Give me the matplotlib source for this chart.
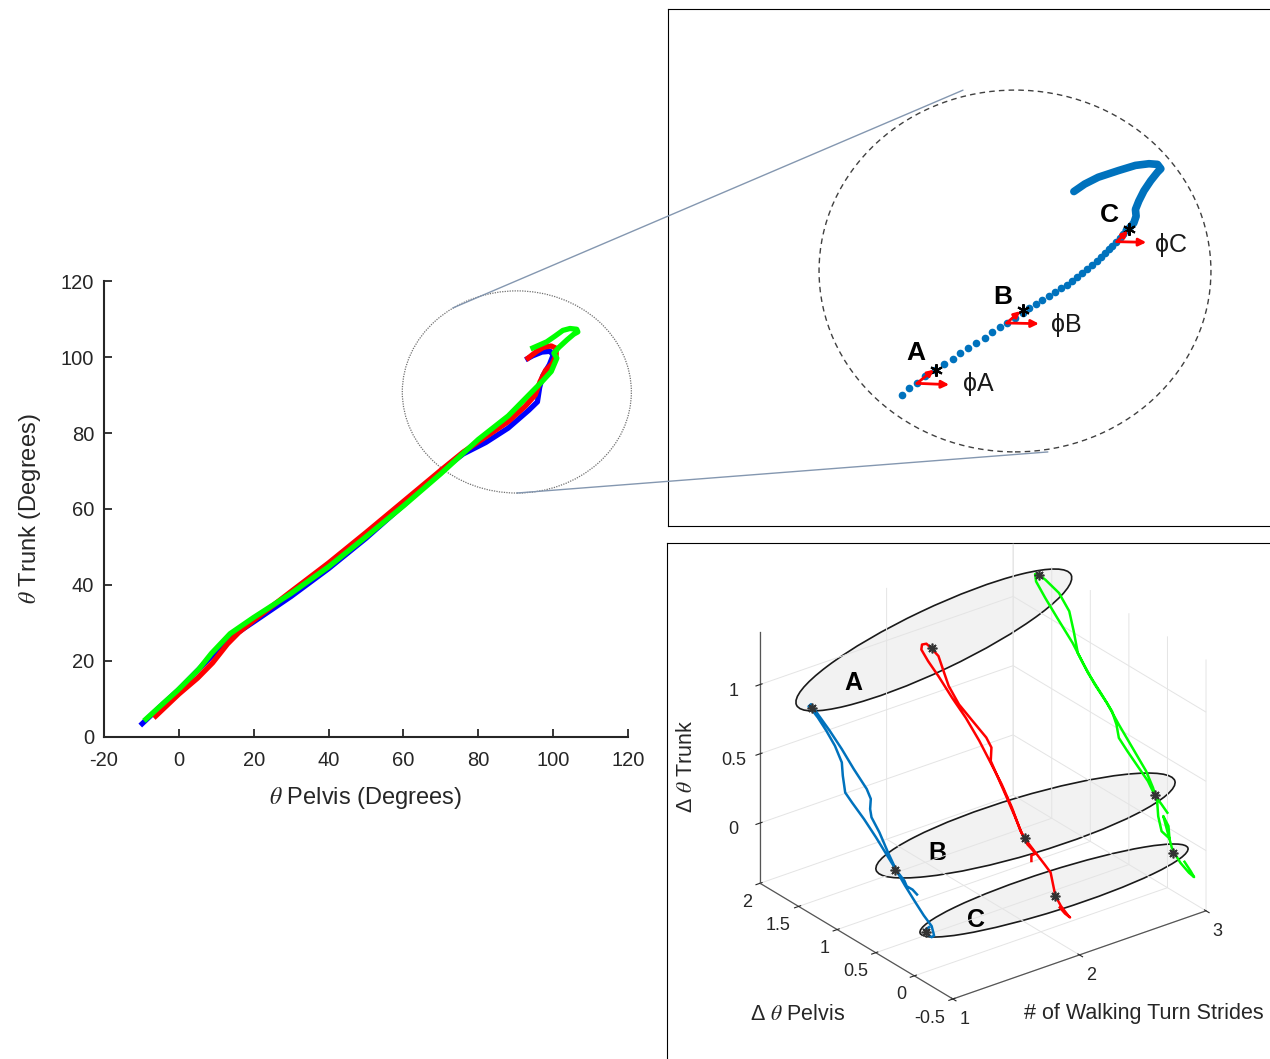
import matplotlib
matplotlib.use('Agg')
import matplotlib.pyplot as plt
import numpy as np
from matplotlib.patches import Ellipse, ConnectionPatch

plt.rcParams['font.family'] = ['Liberation Sans', 'DejaVu Sans']
plt.rcParams['mathtext.fontset'] = 'stix'
plt.rcParams['axes.unicode_minus'] = False
plt.rcParams['grid.color'] = '#e4e4e4'
plt.rcParams['grid.linewidth'] = 0.7

# ---- left panel: trunk vs pelvis angle, three turns
blue_pelvis = [-9.8, -5, 0, 5, 10, 15, 20, 30, 40, 50, 60, 70, 76, 82, 88, 93.5, 95.8, 96.4,
               97.2, 99, 100, 99.2, 97, 94.5, 93.2]
blue_trunk = [3.5, 8, 12.5, 17.5, 22.5, 27, 30.3, 37, 44.3, 52.3, 61, 70, 74.5, 77.5, 81.3, 86,
              88.2, 92, 95, 98, 100.5, 101.5, 101.3, 100.3, 99.6]
red_pelvis = [-6.2, 0, 5, 9, 13, 16, 20, 30, 40, 50, 60, 70, 76, 82, 88, 92.5, 95.2, 96.5, 98,
              99.8, 100.8, 100.8, 99.5, 97.5, 95.5, 93.3]
red_trunk = [5.5, 11.3, 15.5, 19.5, 24.5, 27.5, 30.7, 38.3, 45.8, 53.8, 62, 70.2, 75, 79, 83,
             87, 90, 93.5, 96.5, 98.3, 100.5, 102.3, 102.9, 102.6, 101.4, 99.7]
green_pelvis = [-8.8, -4, -0.4, 5.3, 8.7, 13.7, 19.9, 30, 40, 50, 60, 70, 80, 88, 93, 97, 99.5,
                101, 100.2, 101.5, 103.7, 105.5, 106.6, 106.3, 104.5, 102.6, 100.5, 98.3, 94.6]
green_trunk = [4.7, 9, 12.2, 17.8, 22, 27.2, 31.4, 37.8, 44.8, 52.7, 60.8, 69.3, 78.3, 84.5, 89.5,
               93.5, 96.2, 99.7, 101, 102.5, 104.5, 106, 106.6, 107.3, 107.5, 107, 105.5, 104, 102.4]

# ---- top right: magnified trajectory (units of the zoom view)
dots_u = [38.82, 40.05, 41.35, 42.76, 44.33, 45.85, 47.26, 48.50, 49.90, 51.20, 52.61, 53.90,
          55.14, 56.38, 57.67, 58.91, 60.03, 61.05, 62.17, 63.30, 64.25, 65.27, 66.22, 67.12,
          67.97, 68.81, 69.66, 70.45, 71.18, 71.91, 72.58, 73.20, 73.82, 74.44, 75.00, 75.57, 76.13]
dots_v = [21.80, 22.87, 23.82, 24.84, 25.85, 26.86, 27.82, 28.67, 29.57, 30.35, 31.31, 32.16,
          33.00, 33.73, 34.57, 35.42, 36.15, 36.83, 37.56, 38.23, 38.79, 39.47, 40.09, 40.71,
          41.38, 42.06, 42.73, 43.41, 44.03, 44.70, 45.32, 45.94, 46.56, 47.23, 47.80, 48.47, 49.09]
solid_u = [76.13, 76.52, 77.37, 77.76, 77.65, 78.21, 79.06, 80.19, 81.31, 81.87, 81.31, 79.90,
           77.65, 74.85, 71.46, 69.22, 67.42]
solid_v = [49.09, 49.37, 50.33, 51.45, 52.58, 53.99, 55.68, 57.36, 58.77, 59.34, 60.07, 60.18,
           59.90, 59.05, 57.93, 56.80, 55.56]
phase_names = ['A', 'B', 'C']
phase_u = [44.45, 58.91, 76.63]
phase_v = [25.84, 35.86, 49.37]
vertex_u = [41.35, 56.26, 74.55]
vertex_v = [23.70, 33.72, 47.23]
horiz_u = [46.70, 61.61, 79.45]
horiz_v = [23.48, 33.61, 47.12]
tang_u = [44.16, 58.52, 76.41]
tang_v = [25.96, 35.69, 49.03]
label_u = [41.18, 55.59, 73.26]
label_v = [28.77, 38.11, 51.62]
phi_u = [51.48, 66.11, 83.56]
phi_v = [23.58, 33.44, 46.67]

# ---- bottom right: 3D loops (strides, d pelvis, d trunk)
blue_y = [-0.035, 0.023, 0.098, 0.129, 0.231, 0.364, 0.497, 0.652, 0.808, 0.896, 0.927, 0.940,
          1.029, 1.140, 1.251, 1.317, 1.371, 1.339, 1.308, 1.251, 1.096, 0.940, 0.785, 0.617,
          0.564, 0.573, 0.555, 0.453, 0.342, 0.231, 0.120, -0.013, -0.123, -0.225, -0.256,
          -0.225, -0.168, -0.146, -0.190]
blue_z = [0.164, 0.180, 0.179, 0.209, 0.247, 0.323, 0.399, 0.479, 0.547, 0.589, 0.700, 0.792,
          0.882, 0.953, 1.012, 1.038, 1.052, 1.079, 1.065, 1.037, 0.968, 0.888, 0.796, 0.708,
          0.654, 0.578, 0.524, 0.450, 0.343, 0.247, 0.176, 0.101, 0.042, -0.001, -0.058,
          -0.081, -0.076, -0.052, -0.020]
red_y = [0.123, 0.123, 0.065, 0.176, 0.242, 0.331, 0.442, 0.575, 0.650, 0.641, 0.708, 0.885,
         1.062, 1.195, 1.262, 1.328, 1.417, 1.484, 1.541, 1.550, 1.461, 1.328, 1.151, 0.974,
         0.797, 0.641, 0.508, 0.375, 0.264, 0.211, 0.087, -0.046, -0.126, -0.157, -0.188,
         -0.259, -0.356, -0.378, -0.312, -0.245]
red_z = [0.035, 0.076, 0.108, 0.138, 0.188, 0.279, 0.386, 0.510, 0.581, 0.681, 0.731, 0.791,
         0.852, 0.940, 1.026, 1.112, 1.137, 1.149, 1.124, 1.085, 1.030, 0.967, 0.870, 0.785,
         0.676, 0.560, 0.460, 0.336, 0.205, 0.170, 0.120, 0.068, 0.035, -0.039, -0.113,
         -0.162, -0.201, -0.205, -0.199, -0.178]
green_y = [0.001, 0.076, 0.165, 0.253, 0.386, 0.519, 0.630, 0.661, 0.719, 0.852, 1.029, 1.162,
           1.215, 1.273, 1.406, 1.583, 1.659, 1.716, 1.703, 1.583, 1.428, 1.229, 1.096, 0.941,
           0.785, 0.630, 0.453, 0.276, 0.187, 0.134, 0.120, 0.076, -0.026, -0.013, 0.054,
           -0.057, -0.088, -0.168, -0.279, -0.345, -0.301, -0.221]
green_z = [0.106, 0.141, 0.178, 0.250, 0.313, 0.377, 0.436, 0.522, 0.599, 0.675, 0.771, 0.871,
           1.010, 1.136, 1.223, 1.260, 1.266, 1.256, 1.207, 1.127, 1.035, 0.921, 0.821, 0.717,
           0.637, 0.532, 0.423, 0.314, 0.224, 0.145, 0.041, -0.053, -0.071, 0.014, 0.064,
           -0.128, -0.154, -0.199, -0.234, -0.243, -0.215, -0.174]
strides = [1, 2, 3]
star_y = [[1.331, 0.253, -0.154], [1.417, 0.211, -0.188], [1.659, 0.165, -0.070]]
star_z = [[1.053, 0.245, -0.064], [1.137, 0.170, -0.113], [1.266, 0.178, -0.160]]
# phase ellipses (frame units): centre, width, height, angle
ell_cx = [44.25, 59.45, 64.18]
ell_cy = [69.49, 38.72, 27.94]
ell_w = [50.4, 51.7, 46.6]
ell_h = [10.3, 9.6, 6.6]
ell_ang = [25.4, 16.6, 17.6]
ell_label_x = [30.85, 44.78, 51.24]
ell_label_y = [62.35, 34.16, 23.05]

W, H = 1270, 1059
fig = plt.figure(figsize=(12.7, 10.59), dpi=100)


def box(x0, y0, x1, y1):
    return [x0 / W, 1 - y1 / H, (x1 - x0) / W, (y1 - y0) / H]


# ---------------- left panel
ax = fig.add_axes(box(104, 281, 628, 737))
ax.plot(blue_pelvis, blue_trunk, color='#0000ff', lw=3.8)
ax.plot(red_pelvis, red_trunk, color='#ff0000', lw=3.8)
ax.plot(green_pelvis, green_trunk, color='#00ff00', lw=3.8)
ax.set_xlim(-20, 120)
ax.set_ylim(0, 120)
ax.set_xticks(np.arange(-20, 121, 20))
ax.set_yticks(np.arange(0, 121, 20))
for s in ['top', 'right']:
    ax.spines[s].set_visible(False)
for s in ['left', 'bottom']:
    ax.spines[s].set_linewidth(1.5)
    ax.spines[s].set_color('#262626')
ax.tick_params(direction='in', length=6, width=1.3, labelsize=14.5, colors='#262626')
ax.tick_params(axis='x', pad=10)
ax.tick_params(axis='y', pad=7)
ax.set_xlabel(r'$\theta$ Pelvis (Degrees)', fontsize=17, color='#262626', labelpad=11)
ax.set_ylabel(r'$\theta$ Trunk (Degrees)', fontsize=17, color='#262626', labelpad=13)
ax.add_patch(Ellipse((90.3, 90.8), 61.2, 53.2, fill=False, ec='#707070', lw=0.9,
                     ls=(0, (1, 1)), clip_on=False))

# ---------------- top right panel
ax_tr = fig.add_axes(box(668, 9, 1270, 526))
ax_tr.set_xlim(0, 100)
ax_tr.set_ylim(0, 517 / 6.02)
ax_tr.set_xticks([])
ax_tr.set_yticks([])
ax_tr.spines['right'].set_visible(False)
ax_tr.add_patch(Ellipse((57.64, 42.36), 65.1, 60.1, fill=False, ec='#404040', lw=1,
                        ls=(0, (4, 3))))
ax_tr.plot(dots_u, dots_v, 'o', color='#0072BD', ms=5.5, mec='none')
ax_tr.plot(solid_u, solid_v, color='#0072BD', lw=5.5, solid_capstyle='round')
for i in range(3):
    ax_tr.annotate('', xy=(horiz_u[i], horiz_v[i]), xytext=(vertex_u[i], vertex_v[i]),
                   arrowprops=dict(arrowstyle='-|>', color='#ff0000', lw=2, mutation_scale=11,
                                   shrinkA=0, shrinkB=0))
    ax_tr.annotate('', xy=(tang_u[i], tang_v[i]), xytext=(vertex_u[i], vertex_v[i]),
                   arrowprops=dict(arrowstyle='-|>', color='#ff0000', lw=2, mutation_scale=9,
                                   shrinkA=0, shrinkB=0))
    ax_tr.text(label_u[i], label_v[i], phase_names[i], fontsize=19, fontweight='bold',
               ha='center', va='center')
    ax_tr.text(phi_u[i], phi_v[i], '\u03d5' + phase_names[i], fontsize=18,
               ha='center', va='center', color='#1a1a1a')
ax_tr.plot(phase_u, phase_v, ls='none', marker=(6, 2, 0), ms=9, mec='black', mew=1.5)

# zoom connectors
for (xa, ya), (xb, yb) in [((73.2, 112.9), (49.0, 72.4)), ((90.3, 64.2), (63.1, 12.3))]:
    fig.add_artist(ConnectionPatch(xyA=(xa, ya), coordsA=ax.transData, xyB=(xb, yb),
                                   coordsB=ax_tr.transData, color='#8497b0', lw=1))

# ---------------- bottom right panel
ax_br = fig.add_axes(box(667, 543, 1270, 1059))
ax_br.set_xlim(0, 100)
ax_br.set_ylim(0, 516 / 6.03)
ax_br.set_xticks([])
ax_br.set_yticks([])
ax_br.spines['right'].set_visible(False)
ax_br.spines['bottom'].set_visible(False)
for i in range(3):
    ax_br.add_patch(Ellipse((ell_cx[i], ell_cy[i]), ell_w[i], ell_h[i], angle=ell_ang[i],
                            fc='#f2f2f2', ec='#1a1a1a', lw=1.2))
    ax_br.text(ell_label_x[i], ell_label_y[i], phase_names[i], fontsize=18, fontweight='bold',
               ha='center', va='center')

x_lim, y_lim, z_lim = (1, 3), (-0.5, 2), (-0.435, 1.38)
ax3 = fig.add_axes([0.55, 0.02, 0.42, 0.42 * W / H], projection='3d')
ax3.set_facecolor('none')
ax3.set_proj_type('ortho')
ax3.view_init(elev=27.2, azim=-127.3)
ax3.set_box_aspect((1, 1, 0.888))
ax3.computed_zorder = False
loops = [(blue_y, blue_z, '#0072BD'), (red_y, red_z, '#ff0000'), (green_y, green_z, '#00ff00')]
for k, (yy, zz, c) in enumerate(loops):
    ax3.plot(np.full(len(yy), strides[k]), yy, zz, color=c, lw=1.8)
for k in range(3):
    ax3.plot([strides[k]] * 3, star_y[k], star_z[k], ls='none', marker=(8, 2, 0), ms=7,
             mec='#333333', mew=1.2)
ax3.set_xlim(*x_lim)
ax3.set_ylim(*y_lim)
ax3.set_zlim(*z_lim)
ax3.set_xticks([1, 2, 3])
ax3.set_yticks([-0.5, 0, 0.5, 1, 1.5, 2])
ax3.set_zticks([0, 0.5, 1])
ax3.set_yticklabels(['-0.5', '0', '0.5', '1', '1.5', '2'])
ax3.set_zticklabels(['0', '0.5', '1'])
ax3.tick_params(labelsize=13, colors='#262626')
ax3.tick_params(axis='x', pad=-1.5)
ax3.tick_params(axis='y', pad=-2)
for t in ax3.yaxis.get_ticklabels():
    t.set_horizontalalignment('right')
for t in ax3.xaxis.get_ticklabels():
    t.set_horizontalalignment('left')
for a in (ax3.xaxis, ax3.yaxis, ax3.zaxis):
    a.set_pane_color((1, 1, 1, 0))
    a.pane.set_edgecolor('#e4e4e4')
    a.line.set_color('#555555')
    a.line.set_linewidth(0.9)

fig.text(687 / W, 1 - 766 / H, '\u0394 $\\theta$ Trunk', rotation=90, ha='center', va='center',
         fontsize=15.5, color='#262626')
fig.text(798 / W, 1 - 1015 / H, '\u0394 $\\theta$ Pelvis', ha='center', va='center',
         fontsize=15.5, color='#262626')
fig.text(1144 / W, 1 - 1013 / H, '# of Walking Turn Strides', ha='center', va='center',
         fontsize=15.5, color='#262626')

# place the 3D box so its corners land where the original figure has them
corners = np.array([[1, -0.5, z_lim[0]], [3, -0.5, z_lim[0]],
                    [1, 2, z_lim[0]], [1, 2, z_lim[1]]], float)
target = np.array([[953, 999], [1206, 911], [760, 883], [760, 632]], float)
target[:, 1] = H - target[:, 1]
for _ in range(3):
    fig.canvas.draw()
    p = ax3.get_proj() @ np.column_stack([corners, np.ones(4)]).T
    cur = ax3.transData.transform((p[:2] / p[3]).T)
    cm, tm = cur.mean(0), target.mean(0)
    s = np.sum((cur - cm) * (target - tm)) / np.sum((cur - cm) ** 2)
    bb = ax3.get_position().transformed(fig.transFigure)
    ctr = tm + s * (np.array([(bb.x0 + bb.x1) / 2, (bb.y0 + bb.y1) / 2]) - cm)
    w = bb.width * s
    ax3.set_position([(ctr[0] - w / 2) / W, (ctr[1] - w / 2) / H, w / W, w / H])

fig.savefig('out.png', dpi=100)
